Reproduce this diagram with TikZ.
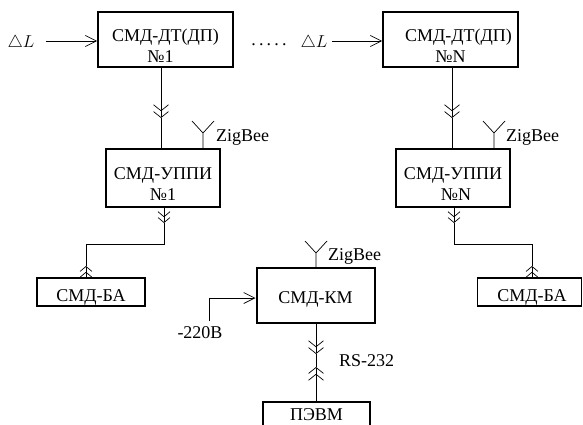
\documentclass[tikz,border=0pt]{standalone}
\usepackage{fontspec}
\setmainfont{Liberation Serif}
\usetikzlibrary{arrows.meta}
\newcommand{\lowtext}[1]{\rule{0pt}{#1pt}}
\newcommand{\sunk}[1]{\raisebox{-9pt}[0pt][0pt]{#1}}
\tikzset{
  block/.style={draw, line width=1.8pt, inner sep=0pt, align=center, font=\fontsize{18}{19}\selectfont},
  lbl/.style={inner sep=0pt, font=\fontsize{18}{19}\selectfont},
  bus/.style={-{Straight Barb[length=6pt,width=15pt] Straight Barb[length=6pt,width=15pt]}, line width=.7pt},
  smallbus/.style={-{Straight Barb[length=5pt,width=12pt] Straight Barb[length=5pt,width=12pt]}, line width=.7pt},
  wire/.style={line width=.7pt},
  feed/.style={-{Straight Barb[length=11pt,width=11pt]}, line width=.7pt}
}
\begin{document}
\begin{tikzpicture}[x=1pt, y=-1pt]
  \useasboundingbox (0,0) rectangle (583,425);
  % top row
  \node[block, minimum width=135pt, minimum height=55pt] (dt1) at (165.5,39.5) {\lowtext{25}СМД-ДТ(ДП)\\[2pt]\hspace*{-10pt}№1};
  \node[block, minimum width=135pt, minimum height=55pt] (dtn) at (450.5,39.5) {\lowtext{25}\hspace*{16pt}СМД-ДТ(ДП)\\[2pt]№N};
  \node[lbl] (dl1) at (21,43) {$\triangle L$};
  \node[lbl] (dln) at (314,43) {$\triangle L$};
  \node[lbl] (dots) at (269,45) {.\hspace{3.2pt}.\hspace{3.2pt}.\hspace{3.2pt}.\hspace{3.2pt}.};
  \coordinate (in1) at (46,41);
  \coordinate (inn) at (332,41);
  \draw[feed] (in1) -- (in1 -| dt1.west);
  \draw[feed] (inn) -- (inn -| dtn.west);
  % second row
  \node[block, minimum width=114pt, minimum height=58pt] (up1) at (163,178) {\lowtext{24}СМД-УППИ\\[2pt]№1};
  \node[block, minimum width=114pt, minimum height=58pt] (upn) at (453,178) {\lowtext{24}СМД-УППИ\\[2pt]\hspace*{6pt}№N};
  \coordinate (m1) at (161,118);
  \coordinate (mn) at (452,118);
  \draw[bus] (m1 |- dt1.south) -- (m1);
  \draw[wire] (m1) -- (m1 |- up1.north);
  \draw[bus] (mn |- dtn.south) -- (mn);
  \draw[wire] (mn) -- (mn |- upn.north);
  % antennas
  \foreach \name/\px/\py in {a1/203/133, an/494/133, ak/316/253}{
    \coordinate (\name) at (\px,\py);
    \coordinate (\name l) at (\px-11,\py-12);
    \coordinate (\name r) at (\px+11,\py-12);
  }
  \node[block, line width=2pt, minimum width=118pt, minimum height=55pt] (km) at (315.5,295.5) {\lowtext{20}СМД-КМ};
  \draw[wire] (a1 |- up1.north) -- (a1) -- (a1l) (a1) -- (a1r);
  \draw[wire] (an |- upn.north) -- (an) -- (anl) (an) -- (anr);
  \draw[wire] (ak |- km.north) -- (ak) -- (akl) (ak) -- (akr);
  \node[lbl, anchor=west] (zb1) at (216,137) {ZigBee};
  \node[lbl, anchor=west] (zbn) at (506,137) {ZigBee};
  \node[lbl, anchor=west] (zbk) at (328,256) {ZigBee};
  % actuators
  \node[block, minimum width=108pt, minimum height=28pt] (ba1) at (91,292) {\sunk{СМД-БА}};
  \node[block, minimum width=104pt, minimum height=28pt] (ban) at (529.5,292) {\hspace*{5pt}\sunk{СМД-БА}};
  \coordinate (o1) at (164,223);
  \coordinate (on) at (454,223);
  \coordinate (e1) at (86,266);
  \coordinate (en) at (532,266);
  \draw[smallbus] (o1 |- up1.south) -- (o1);
  \draw[smallbus] (on |- upn.south) -- (on);
  \draw[wire] (o1) -- (164,244) -- (86,244) -- (e1);
  \draw[wire] (on) -- (454,244) -- (532,244) -- (en);
  \draw[smallbus] (e1 |- ba1.north) -- (e1);
  \draw[smallbus] (en |- ban.north) -- (en);
  % computer
  \node[block, minimum width=107pt, minimum height=26pt] (pc) at (316.5,415) {ПЭВМ};
  \coordinate (k1) at (316,354);
  \coordinate (k2) at (316,367);
  \draw[bus] (km.south -| k1) -- (k1);
  \draw[bus] (pc.north -| k2) -- (k2);
  \draw[wire] (k1) -- (k2);
  \node[lbl, anchor=west] (rs) at (339,361) {RS-232};
  % mains
  \node[lbl] (pw) at (200,333) {-220В};
  \coordinate (p1) at (209,321);
  \coordinate (p2) at (209,298);
  \draw[wire] (p1) -- (p2);
  \draw[feed] (p2) -- (p2 -| km.west);
\end{tikzpicture}
\end{document}
